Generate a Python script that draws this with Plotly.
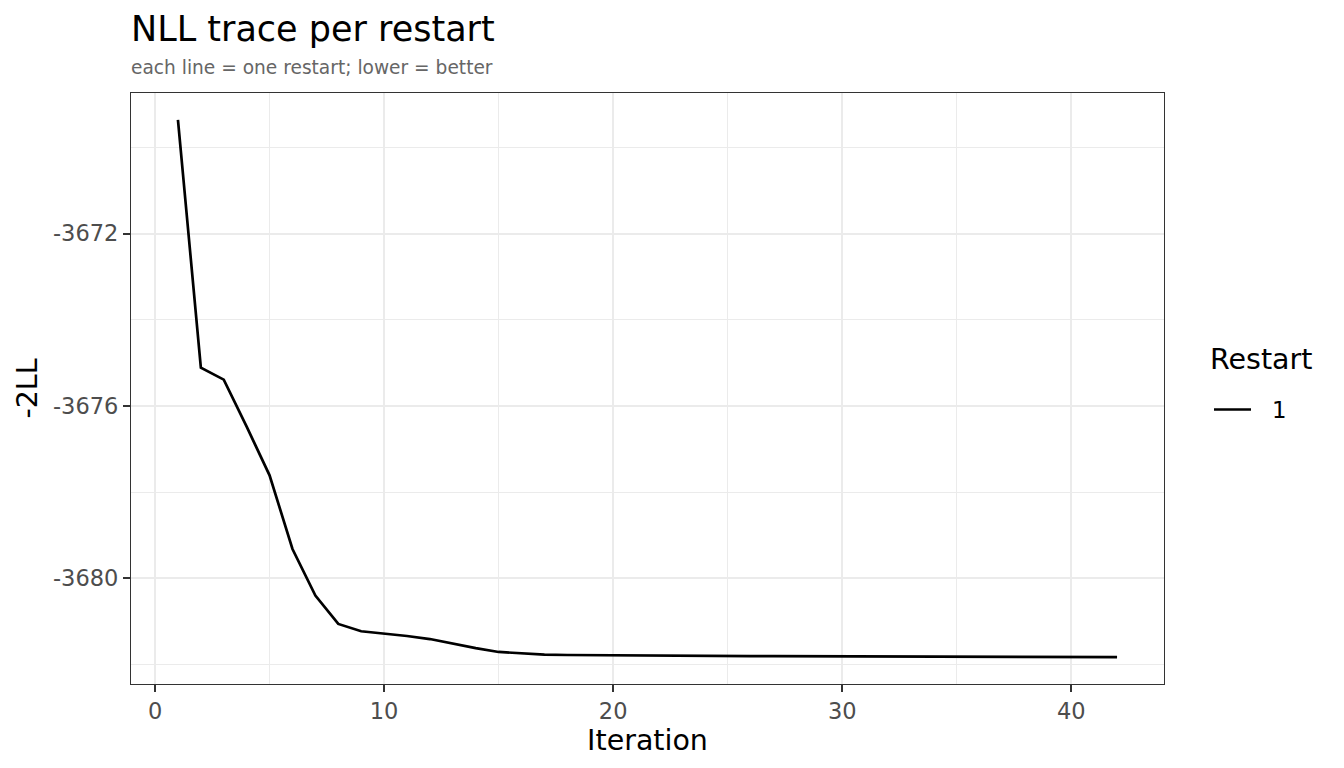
import plotly.graph_objects as go

# Datos: -2LL por iteración, un solo reinicio
iteraciones = list(range(1, 43))
nll_reinicio_1 = [
    -3669.36, -3675.11, -3675.39, -3676.48, -3677.61, -3679.32, -3680.40,
    -3681.06, -3681.23, -3681.28, -3681.34, -3681.41, -3681.52, -3681.62,
    -3681.71, -3681.74, -3681.77, -3681.78, -3681.785, -3681.79, -3681.792,
    -3681.795, -3681.798, -3681.800, -3681.803, -3681.805, -3681.807,
    -3681.809, -3681.811, -3681.813, -3681.815, -3681.816, -3681.817,
    -3681.818, -3681.819, -3681.820, -3681.822, -3681.823, -3681.825,
    -3681.826, -3681.828, -3681.830,
]
nombre_reinicio = "1"

x_ticks = [0, 10, 20, 30, 40]
y_ticks = [-3680, -3676, -3672]
y_ticktext = [str(v) for v in y_ticks]  # guion normal, como en el original

FUENTE = "DejaVu Sans"
# la página deja 8 px de margen en el body, lo descontamos
OFF = 8
ANCHO, ALTO = 1344 - OFF, 768 - OFF
M_IZQ, M_DER, M_SUP, M_INF = 131 - OFF, 180, 93 - OFF, 84


def rango_expandido(valores, frac=0.05):
    # mismo criterio que ggplot: 5% a cada lado
    lo, hi = min(valores), max(valores)
    pad = (hi - lo) * frac
    return [lo - pad, hi + pad]


def py(pix):
    # posición vertical en la pantalla -> coordenada paper
    alto_panel = ALTO - M_SUP - M_INF
    return (ALTO + OFF - M_INF - pix) / alto_panel


def px(pix):
    ancho_panel = ANCHO - M_IZQ - M_DER
    return (pix - OFF - M_IZQ) / ancho_panel


fig = go.Figure()

fig.add_trace(
    go.Scatter(
        x=iteraciones,
        y=nll_reinicio_1,
        mode="lines",
        name=nombre_reinicio,
        line=dict(color="black", width=2.7),
        showlegend=False,
    )
)

fig.update_layout(
    width=ANCHO,
    height=ALTO,
    margin=dict(l=M_IZQ, r=M_DER, t=M_SUP, b=M_INF),
    paper_bgcolor="white",
    plot_bgcolor="white",
    font=dict(family=FUENTE, color="black"),
    title=dict(
        text="NLL trace per restart",
        font=dict(size=35, color="black"),
        x=M_IZQ / ANCHO,
        xanchor="left",
        xref="container",
        y=1 - (29 - OFF) / ALTO,
        yanchor="middle",
        yref="container",
    ),
    showlegend=False,
)

fig.add_annotation(
    text="each line = one restart; lower = better",
    xref="paper",
    yref="paper",
    x=px(129),
    xanchor="left",
    y=py(68),
    yanchor="middle",
    showarrow=False,
    font=dict(size=18.6, color="#666666"),
)

# Leyenda armada a mano para respetar el espaciado de ggplot
fig.add_annotation(
    text="Restart",
    xref="paper",
    yref="paper",
    x=px(1208),
    xanchor="left",
    y=py(359),
    yanchor="middle",
    showarrow=False,
    font=dict(size=28.5, color="black"),
)
fig.add_shape(
    type="line",
    xref="paper",
    yref="paper",
    x0=px(1214),
    x1=px(1251),
    y0=py(409.5),
    y1=py(409.5),
    line=dict(color="black", width=2.7),
)
fig.add_annotation(
    text=nombre_reinicio,
    xref="paper",
    yref="paper",
    x=px(1270),
    xanchor="left",
    y=py(410),
    yanchor="middle",
    showarrow=False,
    font=dict(size=22.8, color="black"),
)

fig.update_xaxes(
    range=rango_expandido(iteraciones),
    tickvals=x_ticks,
    ticks="outside",
    ticklen=7,
    tickwidth=1.8,
    tickcolor="#333333",
    tickfont=dict(size=22.5, color="#4D4D4D"),
    showline=True,
    mirror=True,
    linecolor="#333333",
    linewidth=1.3,
    showgrid=True,
    gridcolor="#EBEBEB",
    gridwidth=2.4,
    zeroline=False,
    minor=dict(dtick=5, tick0=0, showgrid=True, gridcolor="#EBEBEB", gridwidth=1.2),
    title=dict(text="Iteration", font=dict(size=28.5, color="black"), standoff=4),
)

fig.update_yaxes(
    range=rango_expandido(nll_reinicio_1),
    tickvals=y_ticks,
    ticktext=y_ticktext,
    ticks="outside",
    ticklen=7,
    tickwidth=1.8,
    tickcolor="#333333",
    tickfont=dict(size=22.5, color="#4D4D4D"),
    showline=True,
    mirror=True,
    linecolor="#333333",
    linewidth=1.3,
    showgrid=True,
    gridcolor="#EBEBEB",
    gridwidth=2.4,
    zeroline=False,
    minor=dict(dtick=2, tick0=-3672, showgrid=True, gridcolor="#EBEBEB", gridwidth=1.2),
    title=dict(text="-2LL", font=dict(size=28.5, color="black"), standoff=6),
)

fig.write_html("out.html")
